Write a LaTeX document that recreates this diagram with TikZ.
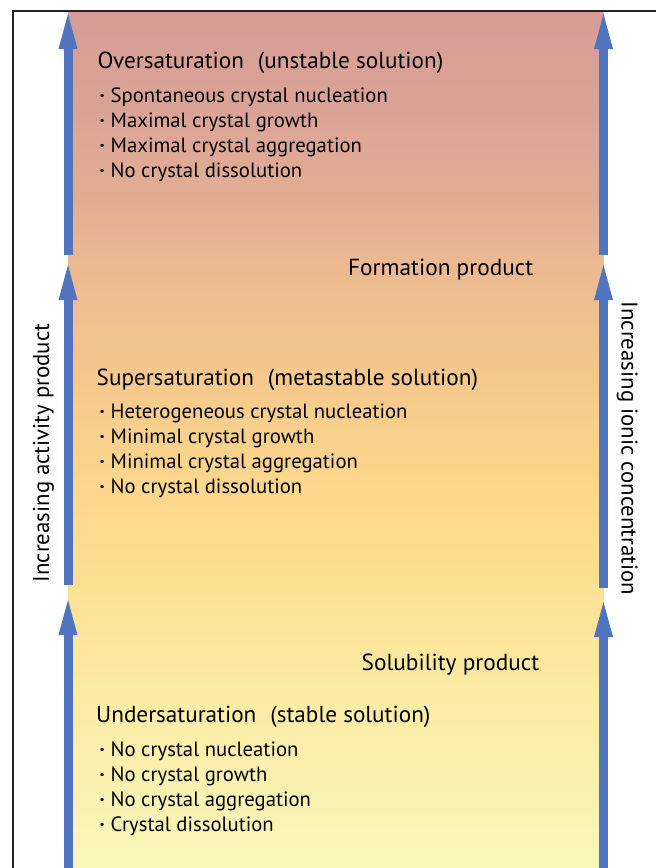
\documentclass[tikz,border=0pt]{standalone}
\usepackage{fontspec}
\setmainfont{PT Sans}
\usetikzlibrary{arrows.meta}

\definecolor{arrowblue}{RGB}{80,117,190}
\definecolor{framegray}{RGB}{35,35,35}
\definecolor{bandA}{RGB}{250,246,186}
\definecolor{bandB}{RGB}{251,236,165}
\definecolor{bandC}{RGB}{252,226,150}
\definecolor{bandD}{RGB}{252,214,140}
\definecolor{bandE}{RGB}{245,200,140}
\definecolor{bandF}{RGB}{236,186,146}
\definecolor{bandG}{RGB}{227,173,148}
\definecolor{bandH}{RGB}{218,162,150}
\definecolor{bandI}{RGB}{215,157,150}
\pgfdeclareverticalshading{bandshade}{100bp}{color(0bp)=(bandA); color(25bp)=(bandA);
  color(34.8bp)=(bandB); color(40.6bp)=(bandC); color(47.6bp)=(bandD); color(53.6bp)=(bandE);
  color(59.9bp)=(bandF); color(64bp)=(bandG); color(69.8bp)=(bandH); color(75bp)=(bandI);
  color(100bp)=(bandI)}

\begin{document}
\begin{tikzpicture}[x=1pt, y=-1pt,
	uparrow/.style={line width=9pt, draw=arrowblue, -{Triangle[width=19pt, length=35pt, line width=0pt]}},
	title/.style={anchor=base west, inner sep=0pt, font=\fontsize{23.2}{25}\selectfont},
	item/.style={anchor=base west, inner sep=0pt, font=\fontsize{20.7}{25}\selectfont},
	level/.style={anchor=base west, inner sep=0pt, font=\fontsize{23.3}{25}\selectfont},
	side/.style={anchor=base, inner sep=0pt, font=\fontsize{22.8}{25}\selectfont}]
	\useasboundingbox (0,0) rectangle (656,868);
	
	% Background band and frame
	\shade[shading=bandshade] (68,11) rectangle (603.5,868);
	\draw[framegray, line width=2pt] (12.5,868) -- (12.5,10.5) -- (656,10.5);
	
	% Arrow ends, left side
	\coordinate (l0) at (68,868);
	\coordinate (l1) at (68,600);
	\coordinate (l2) at (68,585);
	\coordinate (l3) at (68,265);
	\coordinate (l4) at (68,255);
	\coordinate (l5) at (68,14);
	% Arrow ends, right side
	\coordinate (r0) at (603.5,868);
	\coordinate (r1) at (603.5,602);
	\coordinate (r2) at (603.5,588);
	\coordinate (r3) at (603.5,265);
	\coordinate (r4) at (603.5,255);
	\coordinate (r5) at (603.5,14);
	
	\draw[uparrow] (l0) -- (l1);
	\draw[uparrow] (l2) -- (l3);
	\draw[uparrow] (l4) -- (l5);
	\draw[uparrow] (r0) -- (r1);
	\draw[uparrow] (r2) -- (r3);
	\draw[uparrow] (r4) -- (r5);
	
	% Side labels
	\node[side, rotate=90] (activity) at (49,453) {Increasing activity product};
	\node[side, rotate=-90] (ionic) at (621.5,448.5) {Increasing ionic concentration};
	
	% Oversaturation
	\node[title] (over) at (97.5,68) {Oversaturation\hspace{0.6em}(unstable solution)};
	\node[item] (over1) at (99.5,102.5) {\makebox[11pt][l]{\bfseries·}Spontaneous crystal nucleation};
	\node[item] (over2) at (99.5,127.5) {\makebox[11pt][l]{\bfseries·}Maximal crystal growth};
	\node[item] (over3) at (99.5,152.5) {\makebox[11pt][l]{\bfseries·}Maximal crystal aggregation};
	\node[item] (over4) at (99.5,177.5) {\makebox[11pt][l]{\bfseries·}No crystal dissolution};
	\node[level] (formation) at (348,275) {Formation product};
	
	% Supersaturation
	\node[title] (super) at (96.5,385) {Supersaturation\hspace{0.6em}(metastable solution)};
	\node[item] (super1) at (99.5,418.5) {\makebox[11pt][l]{\bfseries·}Heterogeneous crystal nucleation};
	\node[item] (super2) at (99.5,443.5) {\makebox[11pt][l]{\bfseries·}Minimal crystal growth};
	\node[item] (super3) at (99.5,468.5) {\makebox[11pt][l]{\bfseries·}Minimal crystal aggregation};
	\node[item] (super4) at (99.5,493.5) {\makebox[11pt][l]{\bfseries·}No crystal dissolution};
	\node[level] (solubility) at (361.5,670.5) {Solubility product};
	
	% Undersaturation
	\node[title] (under) at (96,722.5) {Undersaturation\hspace{0.6em}(stable solution)};
	\node[item] (under1) at (99.5,756.5) {\makebox[11pt][l]{\bfseries·}No crystal nucleation};
	\node[item] (under2) at (99.5,781.5) {\makebox[11pt][l]{\bfseries·}No crystal growth};
	\node[item] (under3) at (99.5,806.5) {\makebox[11pt][l]{\bfseries·}No crystal aggregation};
	\node[item] (under4) at (99.5,831.5) {\makebox[11pt][l]{\bfseries·}Crystal dissolution};
\end{tikzpicture}
\end{document}
